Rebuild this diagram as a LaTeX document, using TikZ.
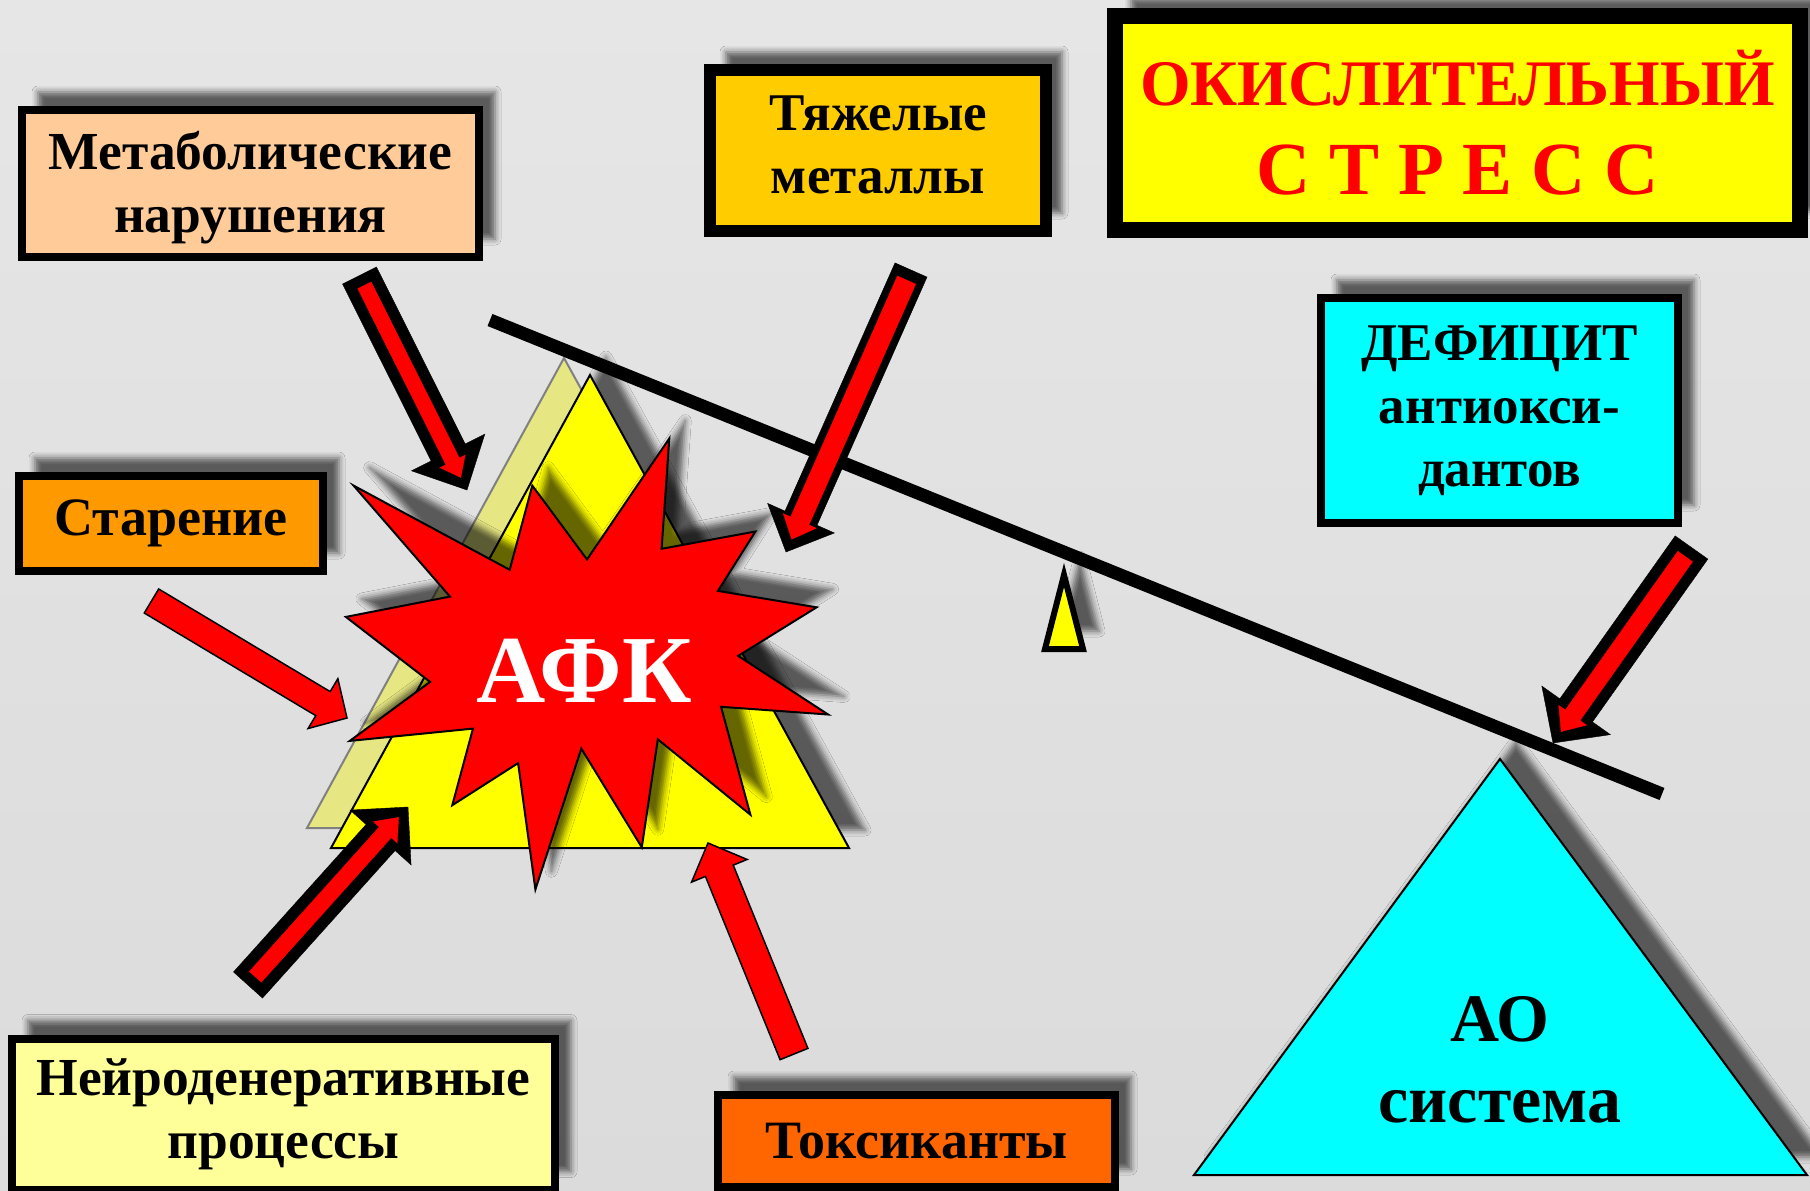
\documentclass[tikz,border=0pt]{standalone}
\usepackage{fontspec}
\setmainfont{Liberation Serif}
\usetikzlibrary{calc,shadows.blur}

\definecolor{bgtop}{HTML}{E6E6E6}
\definecolor{bgbot}{HTML}{DBDBDB}
\definecolor{peach}{HTML}{FFCC99}
\definecolor{gold}{HTML}{FFCC00}
\definecolor{amber}{HTML}{FF9900}
\definecolor{paleyellow}{HTML}{FFFF99}
\definecolor{toxorange}{HTML}{FF6600}
\definecolor{aocyan}{HTML}{00FFFF}
\definecolor{afkyellow}{HTML}{FFFF00}
\definecolor{faded}{HTML}{E6E682}

% block arrow: style, tail, tip, shaft half width, head half width, head length
\newcommand{\blockarrow}[6]{%
	\path ($(#3)!#6!(#2)$) coordinate (hb);
	\filldraw[#1] ($(#2)!#4!90:(#3)$) -- ($(hb)!#4!90:(#3)$) -- ($(hb)!#5!90:(#3)$) -- (#3)
		-- ($(hb)!#5!-90:(#3)$) -- ($(hb)!#4!-90:(#3)$) -- ($(#2)!#4!-90:(#3)$) -- cycle;
}
% red arrow in a thick black frame: tail, tip, w, h, l, inner w, inner h, inner l
\newcommand{\boldarrow}[8]{%
	\blockarrow{fill=black, draw=black}{#1}{#2}{#3}{#4}{#5}
	\path ($(#1)!11pt!(#2)$) coordinate (ti) ($(#2)!14pt!(#1)$) coordinate (tp);
	\blockarrow{fill=red, draw=red}{ti}{tp}{#6}{#7}{#8}
}

\begin{document}
\begin{tikzpicture}[x=1pt, y=-1pt, font=\bfseries]
	\tikzstyle{shade} = [blur shadow={shadow xshift=16pt, shadow yshift=18pt, shadow blur radius=6pt, shadow opacity=60}]
	\tikzstyle{factor} = [rectangle, draw=black, text=black, align=center, inner sep=0pt, shade, font=\bfseries\fontsize{53.5}{63}\selectfont]
	\tikzstyle{thinarrow} = [fill=red, draw=black, line width=1.5pt, line join=miter]

	\useasboundingbox (0,0) rectangle (1810,1191);
	\shade[top color=bgtop, bottom color=bgbot] (0,0) rectangle (1810,1191);

	% boxes
	\node (metab) [factor, fill=peach, line width=8pt, minimum width=457pt, minimum height=147pt] at (250.5,183.5) {\vphantom{Й}Метаболические\\нарушения};
	\node (metals) [factor, fill=gold, line width=12pt, minimum width=336pt, minimum height=161pt, font=\bfseries\fontsize{53}{63}\selectfont] at (878,150.5) {Тяжелые\\металлы\vphantom{у}};
	\node (title) [factor, fill=afkyellow, line width=16pt, minimum width=685pt, minimum height=214pt, text=red, font=\bfseries\fontsize{65}{89}\selectfont] at (1457.5,123) {ОКИСЛИТЕЛЬНЫЙ\\{\fontsize{75}{89}\selectfont С Т Р Е С С}};
	\node (aging) [factor, fill=amber, line width=8pt, minimum width=304pt, minimum height=95pt, font=\bfseries\fontsize{54}{60}\selectfont] at (171,523.5) {Старение};
	\node (deficit) [factor, fill=aocyan, line width=8pt, minimum width=357pt, minimum height=225pt, font=\bfseries\fontsize{53}{63}\selectfont] at (1499.5,410.5) {ДЕФИЦИТ\\антиокси-\\дантов};
	\node (neuro) [factor, fill=paleyellow, line width=8pt, minimum width=543pt, minimum height=151pt] at (283.5,1114) {Нейроденеративные\\процессы};
	\node (toxic) [factor, fill=toxorange, line width=8pt, minimum width=397pt, minimum height=92pt, font=\bfseries\fontsize{54}{60}\selectfont] at (916.5,1141) {Токсиканты};

	% triangles and the beam
	\filldraw[fill=faded, draw=gray, line width=2pt] (564,358) -- (307,828) -- (823,828) -- cycle;
	\filldraw[fill=afkyellow, draw=black, line width=2pt, shade] (590,375) -- (331,848) -- (849,848) -- cycle;
	\filldraw[fill=aocyan, draw=black, line width=2pt, shade] (1500,759) -- (1194,1175) -- (1807,1175) -- cycle;
	\node (ao) [align=center, font=\bfseries\fontsize{68}{81}\selectfont] at (1500,1060) {АО\\система};
	\filldraw[fill=afkyellow, draw=black, line width=6pt, line join=miter, shade] (1064,575) -- (1045,649) -- (1083,649) -- cycle;
	\coordinate (beamL) at (490,320);
	\coordinate (beamR) at (1662,794);
	\draw[line width=13pt] (beamL) -- (beamR);

	% star
	\filldraw[fill=red, draw=black, line width=2pt, shade]
		(353.6,485.6) -- (509.7,569.8) -- (532.3,485.6) -- (587.0,559.5) -- (669.3,438.5) -- (661.6,548.8)
		-- (755.4,531.5) -- (717.9,590.9) -- (816.6,607.3) -- (738.2,655.9) -- (828.1,714.5) -- (721.0,706.8)
		-- (750.4,814.7) -- (657.8,739.3) -- (641.8,847.3) -- (581.3,748.5) -- (535.4,889.4) -- (518.1,763.1)
		-- (452.3,805.2) -- (473.0,728.6) -- (349.8,740.9) -- (430.1,681.9) -- (345.9,616.9) -- (450.0,596.6) -- cycle;
	\node (afk) [text=white, font=\bfseries\fontsize{96}{96}\selectfont, anchor=base] at (584,702) {АФК};

	% arrows
	\coordinate (metab0) at (359.5,275.5);  \coordinate (metab1) at (467,490);
	\coordinate (metals0) at (911,270);     \coordinate (metals1) at (786,552);
	\coordinate (aging0) at (151.5,601);    \coordinate (aging1) at (347,718);
	\coordinate (neuro0) at (248,985);      \coordinate (neuro1) at (408,807);
	\coordinate (toxic0) at (794,1054);     \coordinate (toxic1) at (708,843);
	\coordinate (deficit0) at (1691.5,547.5); \coordinate (deficit1) at (1553,743);

	\boldarrow{metab0}{metab1}{19pt}{41pt}{42pt}{7.5pt}{14pt}{18pt}
	\boldarrow{metals0}{metals1}{17.5pt}{36.5pt}{37pt}{10pt}{18pt}{20pt}
	\boldarrow{neuro0}{neuro1}{19.5pt}{41pt}{41pt}{8pt}{16pt}{20pt}
	\boldarrow{deficit0}{deficit1}{20pt}{42pt}{40pt}{9pt}{17pt}{20pt}
	\blockarrow{thinarrow}{aging0}{aging1}{14pt}{29pt}{28pt}
	\blockarrow{thinarrow}{toxic0}{toxic1}{15pt}{30pt}{30pt}
\end{tikzpicture}
\end{document}
